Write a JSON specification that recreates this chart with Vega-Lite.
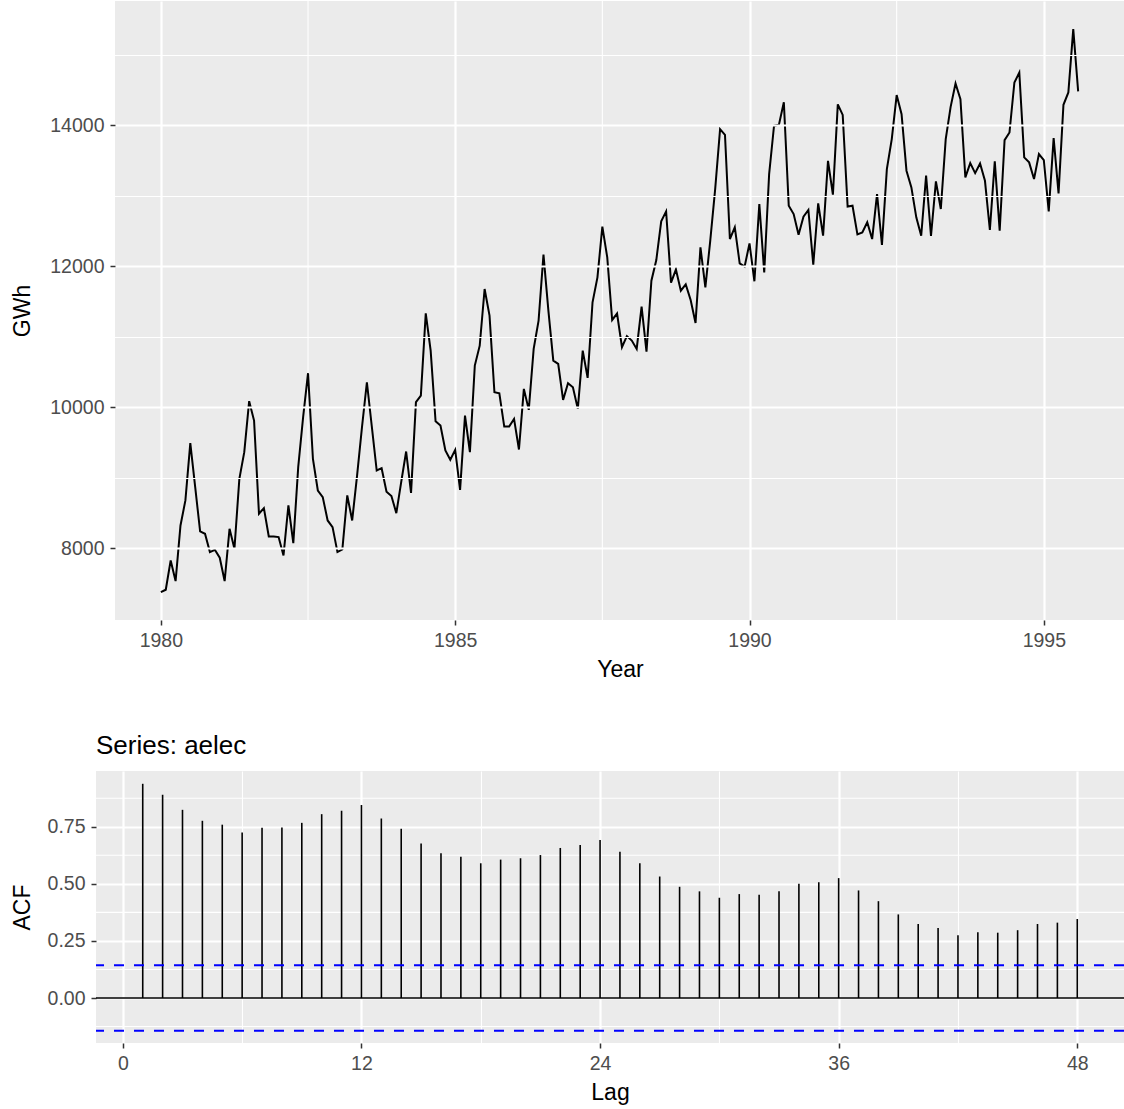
{
  "$schema": "https://vega.github.io/schema/vega-lite/v6.json",
  "padding": {"left": 11, "top": 0, "right": 0, "bottom": 0},
  "background": "#FFFFFF",
  "spacing": 51,
  "config": {
    "font": "Liberation Sans",
    "view": {"fill": "#EBEBEB", "stroke": null},
    "axis": {
      "domain": false,
      "tickColor": "#333333",
      "tickSize": 5,
      "tickWidth": 1.5,
      "labelColor": "#4D4D4D",
      "labelFont": "Liberation Sans",
      "labelFontSize": 19.5,
      "labelPadding": 6,
      "labelFlush": false,
      "labelOverlap": false,
      "titleFont": "Liberation Sans",
      "titleFontSize": 23,
      "titleFontWeight": "normal",
      "titleColor": "#000000",
      "gridColor": "#FFFFFF"
    }
  },
  "datasets": {
    "aelec": [
      {"t": 1980.0000, "GWh": 7376}, {"t": 1980.0833, "GWh": 7410}, {"t": 1980.1667, "GWh": 7826}, {"t": 1980.2500, "GWh": 7533},
      {"t": 1980.3333, "GWh": 8322}, {"t": 1980.4167, "GWh": 8677}, {"t": 1980.5000, "GWh": 9490}, {"t": 1980.5833, "GWh": 8866},
      {"t": 1980.6667, "GWh": 8237}, {"t": 1980.7500, "GWh": 8204}, {"t": 1980.8333, "GWh": 7944}, {"t": 1980.9167, "GWh": 7977},
      {"t": 1981.0000, "GWh": 7864}, {"t": 1981.0833, "GWh": 7533}, {"t": 1981.1667, "GWh": 8275}, {"t": 1981.2500, "GWh": 7991},
      {"t": 1981.3333, "GWh": 8984}, {"t": 1981.4167, "GWh": 9362}, {"t": 1981.5000, "GWh": 10086}, {"t": 1981.5833, "GWh": 9811},
      {"t": 1981.6667, "GWh": 8488}, {"t": 1981.7500, "GWh": 8568}, {"t": 1981.8333, "GWh": 8166}, {"t": 1981.9167, "GWh": 8166},
      {"t": 1982.0000, "GWh": 8157}, {"t": 1982.0833, "GWh": 7897}, {"t": 1982.1667, "GWh": 8606}, {"t": 1982.2500, "GWh": 8072},
      {"t": 1982.3333, "GWh": 9150}, {"t": 1982.4167, "GWh": 9859}, {"t": 1982.5000, "GWh": 10483}, {"t": 1982.5833, "GWh": 9268},
      {"t": 1982.6667, "GWh": 8818}, {"t": 1982.7500, "GWh": 8724}, {"t": 1982.8333, "GWh": 8393}, {"t": 1982.9167, "GWh": 8299},
      {"t": 1983.0000, "GWh": 7944}, {"t": 1983.0833, "GWh": 7982}, {"t": 1983.1667, "GWh": 8748}, {"t": 1983.2500, "GWh": 8393},
      {"t": 1983.3333, "GWh": 9031}, {"t": 1983.4167, "GWh": 9717}, {"t": 1983.5000, "GWh": 10355}, {"t": 1983.5833, "GWh": 9730},
      {"t": 1983.6667, "GWh": 9102}, {"t": 1983.7500, "GWh": 9135}, {"t": 1983.8333, "GWh": 8800}, {"t": 1983.9167, "GWh": 8740},
      {"t": 1984.0000, "GWh": 8497}, {"t": 1984.0833, "GWh": 8940}, {"t": 1984.1667, "GWh": 9372}, {"t": 1984.2500, "GWh": 8785},
      {"t": 1984.3333, "GWh": 10072}, {"t": 1984.4167, "GWh": 10166}, {"t": 1984.5000, "GWh": 11334}, {"t": 1984.5833, "GWh": 10804},
      {"t": 1984.6667, "GWh": 9802}, {"t": 1984.7500, "GWh": 9740}, {"t": 1984.8333, "GWh": 9386}, {"t": 1984.9167, "GWh": 9254},
      {"t": 1985.0000, "GWh": 9395}, {"t": 1985.0833, "GWh": 8828}, {"t": 1985.1667, "GWh": 9882}, {"t": 1985.2500, "GWh": 9362},
      {"t": 1985.3333, "GWh": 10592}, {"t": 1985.4167, "GWh": 10875}, {"t": 1985.5000, "GWh": 11679}, {"t": 1985.5833, "GWh": 11301},
      {"t": 1985.6667, "GWh": 10213}, {"t": 1985.7500, "GWh": 10199}, {"t": 1985.8333, "GWh": 9726}, {"t": 1985.9167, "GWh": 9726},
      {"t": 1986.0000, "GWh": 9835}, {"t": 1986.0833, "GWh": 9400}, {"t": 1986.1667, "GWh": 10261}, {"t": 1986.2500, "GWh": 9963},
      {"t": 1986.3333, "GWh": 10828}, {"t": 1986.4167, "GWh": 11230}, {"t": 1986.5000, "GWh": 12166}, {"t": 1986.5833, "GWh": 11372},
      {"t": 1986.6667, "GWh": 10662}, {"t": 1986.7500, "GWh": 10615}, {"t": 1986.8333, "GWh": 10104}, {"t": 1986.9167, "GWh": 10341},
      {"t": 1987.0000, "GWh": 10284}, {"t": 1987.0833, "GWh": 9977}, {"t": 1987.1667, "GWh": 10804}, {"t": 1987.2500, "GWh": 10417},
      {"t": 1987.3333, "GWh": 11490}, {"t": 1987.4167, "GWh": 11844}, {"t": 1987.5000, "GWh": 12563}, {"t": 1987.5833, "GWh": 12128},
      {"t": 1987.6667, "GWh": 11239}, {"t": 1987.7500, "GWh": 11330}, {"t": 1987.8333, "GWh": 10852}, {"t": 1987.9167, "GWh": 11010},
      {"t": 1988.0000, "GWh": 10946}, {"t": 1988.0833, "GWh": 10828}, {"t": 1988.1667, "GWh": 11428}, {"t": 1988.2500, "GWh": 10790},
      {"t": 1988.3333, "GWh": 11797}, {"t": 1988.4167, "GWh": 12090}, {"t": 1988.5000, "GWh": 12640}, {"t": 1988.5833, "GWh": 12780},
      {"t": 1988.6667, "GWh": 11770}, {"t": 1988.7500, "GWh": 11955}, {"t": 1988.8333, "GWh": 11655}, {"t": 1988.9167, "GWh": 11745},
      {"t": 1989.0000, "GWh": 11523}, {"t": 1989.0833, "GWh": 11197}, {"t": 1989.1667, "GWh": 12270}, {"t": 1989.2500, "GWh": 11703},
      {"t": 1989.3333, "GWh": 12365}, {"t": 1989.4167, "GWh": 13097}, {"t": 1989.5000, "GWh": 13948}, {"t": 1989.5833, "GWh": 13868},
      {"t": 1989.6667, "GWh": 12388}, {"t": 1989.7500, "GWh": 12554}, {"t": 1989.8333, "GWh": 12043}, {"t": 1989.9167, "GWh": 11996},
      {"t": 1990.0000, "GWh": 12327}, {"t": 1990.0833, "GWh": 11788}, {"t": 1990.1667, "GWh": 12885}, {"t": 1990.2500, "GWh": 11915},
      {"t": 1990.3333, "GWh": 13310}, {"t": 1990.4167, "GWh": 13996}, {"t": 1990.5000, "GWh": 14010}, {"t": 1990.5833, "GWh": 14330},
      {"t": 1990.6667, "GWh": 12861}, {"t": 1990.7500, "GWh": 12743}, {"t": 1990.8333, "GWh": 12450}, {"t": 1990.9167, "GWh": 12705},
      {"t": 1991.0000, "GWh": 12800}, {"t": 1991.0833, "GWh": 12024}, {"t": 1991.1667, "GWh": 12894}, {"t": 1991.2500, "GWh": 12436},
      {"t": 1991.3333, "GWh": 13499}, {"t": 1991.4167, "GWh": 13017}, {"t": 1991.5000, "GWh": 14300}, {"t": 1991.5833, "GWh": 14150},
      {"t": 1991.6667, "GWh": 12850}, {"t": 1991.7500, "GWh": 12861}, {"t": 1991.8333, "GWh": 12455}, {"t": 1991.9167, "GWh": 12483},
      {"t": 1992.0000, "GWh": 12625}, {"t": 1992.0833, "GWh": 12388}, {"t": 1992.1667, "GWh": 13027}, {"t": 1992.2500, "GWh": 12303},
      {"t": 1992.3333, "GWh": 13381}, {"t": 1992.4167, "GWh": 13807}, {"t": 1992.5000, "GWh": 14431}, {"t": 1992.5833, "GWh": 14161},
      {"t": 1992.6667, "GWh": 13358}, {"t": 1992.7500, "GWh": 13121}, {"t": 1992.8333, "GWh": 12696}, {"t": 1992.9167, "GWh": 12435},
      {"t": 1993.0000, "GWh": 13287}, {"t": 1993.0833, "GWh": 12431}, {"t": 1993.1667, "GWh": 13206}, {"t": 1993.2500, "GWh": 12814},
      {"t": 1993.3333, "GWh": 13807}, {"t": 1993.4167, "GWh": 14265}, {"t": 1993.5000, "GWh": 14596}, {"t": 1993.5833, "GWh": 14374},
      {"t": 1993.6667, "GWh": 13263}, {"t": 1993.7500, "GWh": 13466}, {"t": 1993.8333, "GWh": 13324}, {"t": 1993.9167, "GWh": 13461},
      {"t": 1994.0000, "GWh": 13215}, {"t": 1994.0833, "GWh": 12516}, {"t": 1994.1667, "GWh": 13490}, {"t": 1994.2500, "GWh": 12506},
      {"t": 1994.3333, "GWh": 13792}, {"t": 1994.4167, "GWh": 13901}, {"t": 1994.5000, "GWh": 14610}, {"t": 1994.5833, "GWh": 14752},
      {"t": 1994.6667, "GWh": 13547}, {"t": 1994.7500, "GWh": 13476}, {"t": 1994.8333, "GWh": 13239}, {"t": 1994.9167, "GWh": 13594},
      {"t": 1995.0000, "GWh": 13509}, {"t": 1995.0833, "GWh": 12781}, {"t": 1995.1667, "GWh": 13821}, {"t": 1995.2500, "GWh": 13036},
      {"t": 1995.3333, "GWh": 14294}, {"t": 1995.4167, "GWh": 14469}, {"t": 1995.5000, "GWh": 15367}, {"t": 1995.5833, "GWh": 14483}
    ],
    "acf": [
      {"lag": 1, "acf": 0.938}, {"lag": 2, "acf": 0.890}, {"lag": 3, "acf": 0.824}, {"lag": 4, "acf": 0.776},
      {"lag": 5, "acf": 0.759}, {"lag": 6, "acf": 0.725}, {"lag": 7, "acf": 0.746}, {"lag": 8, "acf": 0.747},
      {"lag": 9, "acf": 0.767}, {"lag": 10, "acf": 0.805}, {"lag": 11, "acf": 0.820}, {"lag": 12, "acf": 0.845},
      {"lag": 13, "acf": 0.786}, {"lag": 14, "acf": 0.741}, {"lag": 15, "acf": 0.677}, {"lag": 16, "acf": 0.634},
      {"lag": 17, "acf": 0.619}, {"lag": 18, "acf": 0.590}, {"lag": 19, "acf": 0.606}, {"lag": 20, "acf": 0.612},
      {"lag": 21, "acf": 0.626}, {"lag": 22, "acf": 0.657}, {"lag": 23, "acf": 0.670}, {"lag": 24, "acf": 0.692},
      {"lag": 25, "acf": 0.640}, {"lag": 26, "acf": 0.590}, {"lag": 27, "acf": 0.532}, {"lag": 28, "acf": 0.487},
      {"lag": 29, "acf": 0.467}, {"lag": 30, "acf": 0.439}, {"lag": 31, "acf": 0.455}, {"lag": 32, "acf": 0.452},
      {"lag": 33, "acf": 0.467}, {"lag": 34, "acf": 0.500}, {"lag": 35, "acf": 0.507}, {"lag": 36, "acf": 0.525},
      {"lag": 37, "acf": 0.471}, {"lag": 38, "acf": 0.424}, {"lag": 39, "acf": 0.366}, {"lag": 40, "acf": 0.324},
      {"lag": 41, "acf": 0.307}, {"lag": 42, "acf": 0.275}, {"lag": 43, "acf": 0.288}, {"lag": 44, "acf": 0.286},
      {"lag": 45, "acf": 0.297}, {"lag": 46, "acf": 0.324}, {"lag": 47, "acf": 0.330}, {"lag": 48, "acf": 0.346}
    ],
    "ci": [
      {"bound": 0.143}, {"bound": -0.143}
    ],
    "yearMinorBreaks": [
      {"g": 1982.5}, {"g": 1987.5}, {"g": 1992.5}
    ],
    "acfMinorBreaks": [
      {"g": -0.125}, {"g": 0.125}, {"g": 0.375}, {"g": 0.625}, {"g": 0.875}
    ]
  },
  "vconcat": [
    {
      "width": 1028,
      "height": 619,
      "layer": [
        {
          "data": {"name": "yearMinorBreaks"},
          "mark": {"type": "rule", "stroke": "#FFFFFF", "strokeWidth": 1.1},
          "encoding": {
            "x": {"field": "g", "type": "quantitative", "title": "Year"}
          }
        },
        {
          "data": {"name": "aelec"},
          "mark": {"type": "line", "stroke": "#000000", "strokeWidth": 2},
          "encoding": {
            "x": {
              "field": "t",
              "type": "quantitative",
              "scale": {"domain": [1978.898, 1996.362], "nice": false, "zero": false},
              "axis": {
                "title": "Year",
                "titlePadding": 9,
                "titleX": 524,
                "values": [1980, 1985, 1990, 1995],
                "format": "d",
                "gridWidth": 2.2
              }
            },
            "y": {
              "field": "GWh",
              "type": "quantitative",
              "scale": {"domain": [6980, 15767], "nice": false, "zero": false},
              "axis": {
                "title": "GWh",
                "titlePadding": 21,
                "offset": -19,
                "zindex": 1,
                "minExtent": 60,
                "maxExtent": 60,
                "values": [8000, 9000, 10000, 11000, 12000, 13000, 14000, 15000],
                "format": "d",
                "labelExpr": "datum.value % 2000 === 0 ? datum.label : ''",
                "gridWidth": {"condition": {"test": "datum.value % 2000 === 0", "value": 2.2}, "value": 1.1},
                "tickOpacity": {"condition": {"test": "datum.value % 2000 === 0", "value": 1}, "value": 0}
              }
            }
          }
        },
        {
          "data": {"values": [{}]},
          "mark": {"type": "rect", "fill": "#FFFFFF"},
          "encoding": {
            "x": {"datum": 1978.898, "type": "quantitative", "title": "Year"},
            "x2": {"datum": 1979.221},
            "y": {"value": 0},
            "y2": {"value": "height"}
          }
        }
      ]
    },
    {
      "width": 1028,
      "height": 272,
      "title": {
        "text": "Series: aelec",
        "anchor": "start",
        "frame": "group",
        "font": "Liberation Sans",
        "fontSize": 26,
        "fontWeight": "normal",
        "color": "#000000",
        "baseline": "alphabetic",
        "offset": -9
      },
      "layer": [
        {
          "data": {"name": "acfMinorBreaks"},
          "mark": {"type": "rule", "stroke": "#FFFFFF", "strokeWidth": 1.1},
          "encoding": {
            "y": {"field": "g", "type": "quantitative", "title": "ACF"}
          }
        },
        {
          "data": {"values": [{}]},
          "mark": {"type": "rule", "stroke": "#000000", "strokeWidth": 1.6},
          "encoding": {
            "y": {"datum": 0, "type": "quantitative", "title": "ACF"}
          }
        },
        {
          "data": {"name": "acf"},
          "mark": {"type": "rule", "stroke": "#000000", "strokeWidth": 1.6},
          "encoding": {
            "x": {
              "field": "lag",
              "type": "quantitative",
              "scale": {"domain": [-1.35, 50.35], "nice": false, "zero": false},
              "axis": {
                "title": "Lag",
                "titlePadding": 9,
                "values": [0, 6, 12, 18, 24, 30, 36, 42, 48],
                "labelExpr": "datum.value % 12 === 0 ? datum.label : ''",
                "gridWidth": {"condition": {"test": "datum.value % 12 === 0", "value": 2.2}, "value": 1.1},
                "tickOpacity": {"condition": {"test": "datum.value % 12 === 0", "value": 1}, "value": 0}
              }
            },
            "y": {
              "field": "acf",
              "type": "quantitative",
              "title": "ACF",
              "scale": {"domain": [-0.197, 0.994], "nice": false, "zero": false},
              "axis": {
                "title": "ACF",
                "titlePadding": 17,
                "minExtent": 45,
                "maxExtent": 45,
                "values": [0, 0.25, 0.5, 0.75],
                "format": ".2f",
                "gridWidth": 2.2
              }
            },
            "y2": {"datum": 0}
          }
        },
        {
          "data": {"name": "ci"},
          "mark": {"type": "rule", "stroke": "#0000FF", "strokeWidth": 2, "strokeDash": [10, 10]},
          "encoding": {
            "y": {"field": "bound", "type": "quantitative", "title": "ACF"}
          }
        }
      ]
    }
  ]
}
